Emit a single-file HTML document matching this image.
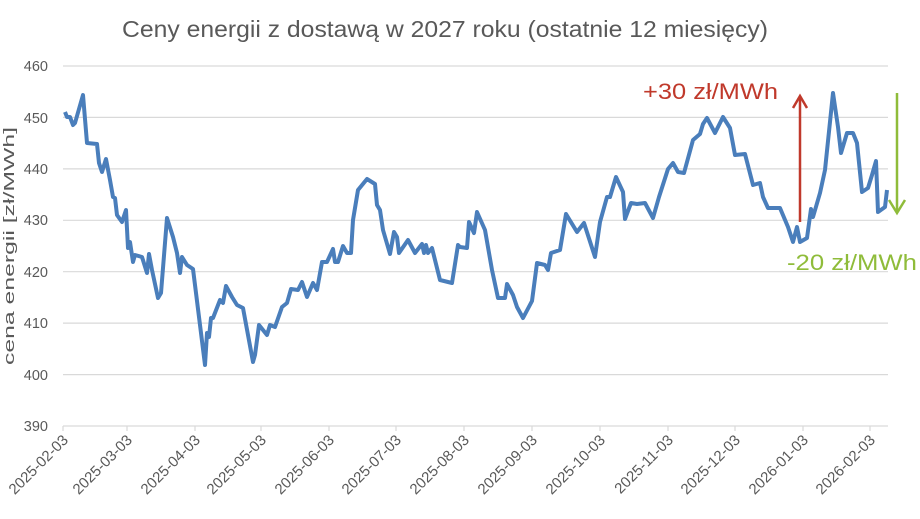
<!DOCTYPE html>
<html><head><meta charset="utf-8"><style>
html,body{margin:0;padding:0;background:#fff}
svg{display:block;font-family:"Liberation Sans",sans-serif}
</style></head><body>
<svg width="920" height="519" viewBox="0 0 920 519">
<rect width="920" height="519" fill="#fff"/>
<text x="122" y="37" font-size="23" fill="#595959" textLength="646" lengthAdjust="spacingAndGlyphs">Ceny energii z dostawą w 2027 roku (ostatnie 12 miesięcy)</text>
<g stroke="#d9d9d9" stroke-width="1.2">
<line x1="63" y1="66" x2="888" y2="66"/><line x1="63" y1="117.4" x2="888" y2="117.4"/>
<line x1="63" y1="168.9" x2="888" y2="168.9"/><line x1="63" y1="220.3" x2="888" y2="220.3"/>
<line x1="63" y1="271.7" x2="888" y2="271.7"/><line x1="63" y1="323.1" x2="888" y2="323.1"/>
<line x1="63" y1="374.6" x2="888" y2="374.6"/><line x1="63" y1="426" x2="888" y2="426"/>
</g>
<g stroke="#d9d9d9" stroke-width="1.2">
<line x1="63" y1="426" x2="63" y2="431"/><line x1="127" y1="426" x2="127" y2="431"/><line x1="195" y1="426" x2="195" y2="431"/><line x1="261" y1="426" x2="261" y2="431"/><line x1="329" y1="426" x2="329" y2="431"/><line x1="396" y1="426" x2="396" y2="431"/><line x1="464" y1="426" x2="464" y2="431"/><line x1="532" y1="426" x2="532" y2="431"/><line x1="600" y1="426" x2="600" y2="431"/><line x1="668" y1="426" x2="668" y2="431"/><line x1="735" y1="426" x2="735" y2="431"/><line x1="803" y1="426" x2="803" y2="431"/><line x1="870" y1="426" x2="870" y2="431"/>
</g>
<g font-size="14.5" fill="#595959" text-anchor="end">
<text x="48" y="71">460</text><text x="48" y="123">450</text><text x="48" y="174">440</text><text x="48" y="225">430</text><text x="48" y="277">420</text><text x="48" y="328">410</text><text x="48" y="380">400</text><text x="48" y="431">390</text>
</g>
<text transform="translate(14,246) rotate(-90)" text-anchor="middle" font-size="15" fill="#595959" textLength="238" lengthAdjust="spacingAndGlyphs">cena energii [zł/MWh]</text>
<g font-size="15" fill="#595959" text-anchor="end">
<text transform="translate(69,441) rotate(-45)">2025-02-03</text>
<text transform="translate(133,441) rotate(-45)">2025-03-03</text>
<text transform="translate(201,441) rotate(-45)">2025-04-03</text>
<text transform="translate(267,441) rotate(-45)">2025-05-03</text>
<text transform="translate(335,441) rotate(-45)">2025-06-03</text>
<text transform="translate(402,441) rotate(-45)">2025-07-03</text>
<text transform="translate(470,441) rotate(-45)">2025-08-03</text>
<text transform="translate(538,441) rotate(-45)">2025-09-03</text>
<text transform="translate(606,441) rotate(-45)">2025-10-03</text>
<text transform="translate(674,441) rotate(-45)">2025-11-03</text>
<text transform="translate(741,441) rotate(-45)">2025-12-03</text>
<text transform="translate(809,441) rotate(-45)">2026-01-03</text>
<text transform="translate(876,441) rotate(-45)">2026-02-03</text>
</g>
<polyline fill="none" stroke="#4a7ebb" stroke-width="4" stroke-linejoin="round" points="65,112 67,117 70,117 73,125 75,123 83,95 84,107 87,143 97,144 99,163 102,172 106,159 110,180 113,197 115,198 117,215 122,222 126,210 128,248 130,242 133,262 135,255 142,257 147,273 149,254 152,270 158,298 161,293 167,218 173,237 177,253 180,273 182,257 187,265 193,269 205,365 207,333 209,337 211,318 213,318 220,300 223,303 226,286 232,297 237,305 243,308 253,362 255,355 259,325 267,335 270,325 275,327 282,307 287,303 291,289 298,290 302,282 307,297 313,283 317,290 322,262 327,262 333,249 335,262 338,262 343,246 347,253 351,253 353,220 358,190 367,179 375,184 377,205 380,210 383,230 390,254 394,232 397,237 399,253 408,240 415,253 422,244 424,253 426,245 428,253 432,248 440,280 452,283 458,245 460,247 467,248 469,222 474,233 477,212 485,230 492,270 498,298 505,298 507,284 513,295 517,307 523,318 532,301 537,263 545,265 548,270 551,253 560,250 566,214 577,232 584,223 595,257 600,222 607,197 610,197 616,177 623,192 625,219 631,203 637,204 645,203 653,218 659,197 668,169 673,163 678,172 684,173 693,140 700,134 703,124 707,118 715,133 719,125 723,117 730,128 735,155 745,154 753,185 760,183 763,197 768,208 777,208 780,208 788,227 793,242 797,227 800,242 807,238 811,209 813,217 820,193 825,170 833,93 838,127 841,153 847,133 853,133 857,143 862,192 868,188 872,175 876,161 878,212 885,207 887,190"/>
<g stroke="#c0392b" stroke-width="2.5" fill="none"><line x1="800" y1="222" x2="800" y2="97"/><polyline points="793,108 800,96 807,108"/></g>
<g stroke="#8fbc3a" stroke-width="2.5" fill="none"><line x1="897" y1="93" x2="897" y2="212"/><polyline points="889,200 897,213 905,200"/></g>
<text x="643" y="99" font-size="22" fill="#c0392b" textLength="135" lengthAdjust="spacingAndGlyphs">+30 zł/MWh</text>
<text x="787" y="270" font-size="22" fill="#8fbc3a" textLength="130" lengthAdjust="spacingAndGlyphs">-20 zł/MWh</text>
</svg>
</body></html>
